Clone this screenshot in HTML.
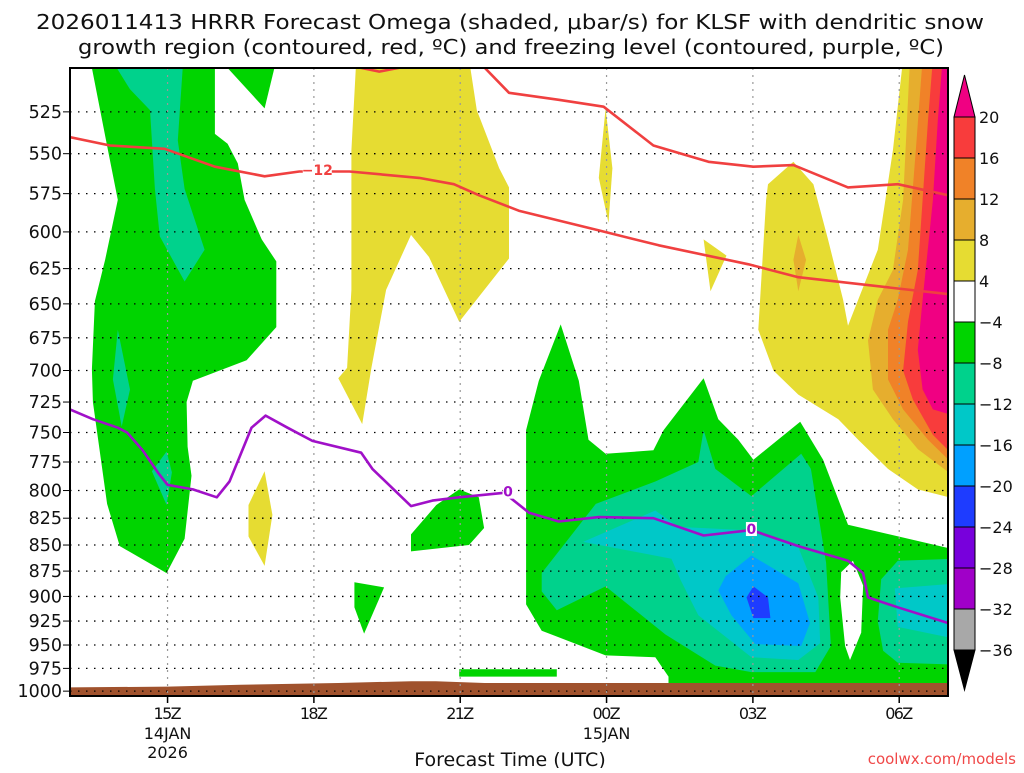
<!DOCTYPE html>
<html><head><meta charset="utf-8"><style>
body{margin:0;background:#fff;width:1024px;height:768px;overflow:hidden;font-family:"Liberation Sans",sans-serif}
svg text{font-family:"DejaVu Sans","Liberation Sans",sans-serif}
</style></head><body>
<svg id="chart" width="1024" height="768" xmlns="http://www.w3.org/2000/svg">
<text x="510" y="29" text-anchor="middle" font-size="20" fill="#111" textLength="948" lengthAdjust="spacingAndGlyphs">2026011413 HRRR Forecast Omega (shaded, μbar/s) for KLSF with dendritic snow</text>
<text x="511" y="54" text-anchor="middle" font-size="20" fill="#111" textLength="866" lengthAdjust="spacingAndGlyphs">growth region (contoured, red, ºC) and freezing level (contoured, purple, ºC)</text>
<defs><clipPath id="pc"><rect x="70" y="68" width="878" height="628"/></clipPath></defs>
<g id="fills" clip-path="url(#pc)"></g>
<g id="grid"></g>
<g id="lines" clip-path="url(#pc)"></g>
<rect x="70" y="68" width="878" height="628" fill="none" stroke="#000" stroke-width="2"/>
<g id="axes"></g>
<g id="cbar"></g>
<text x="510" y="766" text-anchor="middle" font-size="19" fill="#111">Forecast Time (UTC)</text>
<text x="1016" y="764" text-anchor="end" font-size="15" fill="#f04848" font-family="Liberation Mono">coolwx.com/models</text>
</svg>
<script>
// data: [hour since 00Z Jan14, pressure hPa]
const greenLeft=[[13.45,500],[15.97,500],[15.97,538],[16.23,544],[16.44,556],[16.58,579],[16.93,605],[17.23,620],[17.23,667],[16.62,692],[15.52,708],[15.39,725],[15.41,762],[15.49,787],[15.35,844],[14.98,877],[14.02,851],[13.76,812],[13.47,725],[13.45,699],[13.51,648],[13.72,619],[13.98,579],[13.78,548]];
const greenTop=[[16.23,500],[17.19,500],[16.99,523]];
const tealLeft=[[13.96,500],[15.31,500],[15.21,542],[15.35,572],[15.76,612],[15.35,634],[14.84,603],[14.74,572],[14.64,524],[14.23,512]];
const tealSmall1=[[13.98,669],[14.23,715],[14.06,745],[13.88,707]];
const tealSmall2=[[14.98,766],[15.09,784],[14.98,813],[14.68,783]];
const yellowCenter=[[18.87,495],[21.18,495],[21.34,524],[21.80,559],[22.0,571],[22.0,618],[20.98,663],[20.36,617],[19.99,602],[19.48,640],[19.18,698],[18.99,743],[18.50,706],[18.68,698],[18.77,640],[18.77,548]];
const yellowA=[[23.98,523],[24.12,559],[24.04,594],[23.84,565]];
const yellowB=[[25.99,605],[26.46,616],[26.13,641]];
const yellowC=[[16.99,783],[17.15,822],[16.99,870],[16.66,842],[16.66,813]];
const yellowRight=[[27.31,569],[27.83,555],[28.24,569],[28.54,605],[28.85,647],[28.95,666],[29.16,647],[29.56,612],[29.87,548],[30.08,495],[31.2,495],[31.2,808],[30.38,799],[29.77,781],[29.16,756],[28.75,739],[27.93,719],[27.42,700],[27.11,669],[27.21,612],[27.27,579]];
const orangeSmall=[[27.93,602],[28.09,619],[27.93,641],[27.83,619]];
const goldRight=[[30.22,495],[31.2,495],[31.2,790],[30.38,764],[29.87,739],[29.46,715],[29.36,677],[29.56,647],[29.87,626],[30.08,579]];
const orangeRight=[[30.48,495],[31.2,495],[31.2,781],[30.59,756],[30.08,731],[29.77,707],[29.77,669],[29.97,647],[30.18,612],[30.34,548]];
const redRight=[[30.69,495],[31.2,495],[31.2,773],[30.69,752],[30.28,723],[30.08,700],[30.18,663],[30.38,626],[30.48,579],[30.59,530]];
const magentaRight=[[30.89,495],[31.2,495],[31.2,737],[30.69,731],[30.48,715],[30.38,684],[30.48,647],[30.69,579],[30.79,530]];
const greenLow=[[22.35,748],[22.61,708],[23.06,665],[23.43,708],[23.63,756],[23.98,768],[24.96,765],[25.17,748],[25.99,706],[26.29,739],[26.70,756],[27.01,773],[27.97,741],[28.44,773],[28.95,831],[31.2,855],[31.2,1010],[25.27,1010],[25.27,984],[25.0,963],[23.98,961],[22.67,935],[22.35,908]];
const tealLow=[[22.67,877],[23.78,812],[25.0,792],[25.88,775],[25.99,748],[26.23,781],[26.97,805],[27.99,768],[28.19,781],[28.50,867],[28.60,951],[28.28,979],[26.97,979],[26.23,972],[25.21,939],[23.98,890],[22.98,914],[22.67,895]];
const cyanLow=[[23.52,847],[25.0,818],[25.47,833],[26.84,836],[27.93,852],[28.34,901],[28.38,948],[27.93,966],[26.97,963],[25.88,919],[25.52,884],[25.33,863]];
const blueLow=[[26.44,880],[26.97,860],[27.93,887],[28.17,927],[27.99,951],[27.05,949],[26.56,919],[26.29,894]];
const darkBlueLow=[[26.87,901],[27.01,890],[27.31,901],[27.36,922],[27.01,922]];
const whiteHole=[[28.81,876],[29.05,865],[29.26,889],[29.22,937],[28.99,966],[28.89,951],[28.79,901]];
const tealRight=[[29.63,883],[29.97,865],[31.2,863],[31.2,971],[29.97,969],[29.67,956],[29.56,925]];
const cyanRight=[[29.91,892],[31.2,887],[31.2,944],[29.97,931]];
const greenBlob1=[[19.99,856],[19.99,840],[20.51,813],[20.98,799],[21.38,806],[21.49,834],[21.18,850],[20.57,853]];
const greenBlob2=[[18.83,886],[19.44,891],[19.03,938],[18.83,911]];
const greenStrip=[[20.98,976],[22.98,976],[22.98,984],[20.98,984]];
const ground=[[12.8,1010],[12.8,996],[15.0,995],[16.5,993],[18.5,991],[20.0,989],[20.5,989],[21.5,991],[31.2,991],[31.2,1010]];
const redLine1=[[13,540],[13.82,545],[14.94,547],[15.97,558],[16.99,564],[17.70,561],[18.73,561],[20.16,565],[20.87,569],[21.38,576],[22.20,586],[23.84,599],[25.07,609],[26.91,622],[27.93,631],[29.97,639],[31,643]];
const redLine2=[[18.62,498],[19.34,502],[20.1,498],[21.4,497],[22.0,514],[23.02,518],[23.94,522],[24.96,545],[26.09,555],[27.01,558],[27.83,557],[28.95,571],[29.97,569],[31,576]];
const purpleLine=[[13,731],[13.47,739],[13.98,746],[14.17,750],[14.49,765],[14.80,784],[15.0,795],[15.52,799],[16.01,806],[16.27,792],[16.72,746],[17.01,736],[17.46,746],[17.97,757],[18.97,767],[19.20,781],[19.99,814],[20.43,809],[20.98,806],[21.90,802],[22.41,820],[23.02,828],[23.84,824],[24.96,825],[25.99,841],[26.97,836],[27.93,851],[28.95,865],[29.26,877],[29.36,901],[29.97,911],[31,927]];
const contourLabels=[["−12",18.07,560,"#f04040"],["0",21.98,801,"#a010c8"],["0",26.97,835,"#a010c8"]];
const pressureTicks=[525,550,575,600,625,650,675,700,725,750,775,800,825,850,875,900,925,950,975,1000];
const timeTicks=[15,18,21,24,27,30];
const timeLabels=["15Z","18Z","21Z","00Z","03Z","06Z"];
const dateLabels=[["14JAN","2026"],[],[],["15JAN"],[],[]];
const cbarValues=["20","16","12","8","4","−4","−8","−12","−16","−20","−24","−28","−32","−36"];
const cbarColors=["#f83c3c","#f08228","#e6ae2e","#e6dc32","#ffffff","#00d400","#00d28c","#00c8c8","#00a0ff","#1e3cff","#7800dc","#a000c8","#a8a8a8"];

const X=h=>70+(h-13)*878/18;
const Y=p=>68+899*Math.log(p/500);
const NS="http://www.w3.org/2000/svg";
function mk(tag,parent,attrs){const e=document.createElementNS(NS,tag);for(const k in attrs)e.setAttribute(k,attrs[k]);parent.appendChild(e);return e;}
const pts=a=>a.map(d=>X(d[0]).toFixed(1)+","+Y(d[1]).toFixed(1)).join(" ");
const fills=document.getElementById("fills");
const layers=[["green-left",greenLeft,"#00d400"],["green-top",greenTop,"#00d400"],["teal-left",tealLeft,"#00d28c"],["teal-small-1",tealSmall1,"#00d28c"],["teal-small-2",tealSmall2,"#00d28c"],
["yellow-center",yellowCenter,"#e6dc32"],["yellow-a",yellowA,"#e6dc32"],["yellow-b",yellowB,"#e6dc32"],["yellow-c",yellowC,"#e6dc32"],["yellow-right",yellowRight,"#e6dc32"],["orange-small",orangeSmall,"#e6ae2e"],
["gold-right",goldRight,"#e6ae2e"],["orange-right",orangeRight,"#f08228"],["red-right",redRight,"#f83c3c"],["magenta-right",magentaRight,"#f00082"],
["green-low",greenLow,"#00d400"],["teal-low",tealLow,"#00d28c"],["cyan-low",cyanLow,"#00c8c8"],["blue-low",blueLow,"#00a0ff"],["darkblue-low",darkBlueLow,"#1e3cff"],
["white-hole",whiteHole,"#ffffff"],["teal-right",tealRight,"#00d28c"],["cyan-right",cyanRight,"#00c8c8"],["green-blob-1",greenBlob1,"#00d400"],["green-blob-2",greenBlob2,"#00d400"],["green-strip",greenStrip,"#00d400"],["ground",ground,"#a0522d"]];
layers.forEach(l=>{const e=mk("polygon",fills,{points:pts(l[1]),fill:l[2]});

});
const grid=document.getElementById("grid");
pressureTicks.forEach(p=>{const e=mk("line",grid,{x1:70,x2:948,y1:Y(p),y2:Y(p),stroke:"#000","stroke-width":1.3,"stroke-dasharray":"1.5 6.5"});

});
timeTicks.forEach(h=>{const e=mk("line",grid,{x1:X(h),x2:X(h),y1:68,y2:696,stroke:"#999","stroke-width":1.2,"stroke-dasharray":"2 5"});

});
const lines=document.getElementById("lines");
[["dendritic-minus12-line-lower",redLine1,"#f04040"],["dendritic-minus12-line-upper",redLine2,"#f04040"],["freezing-level-line",purpleLine,"#a010c8"]].forEach(l=>{
const e=mk("polyline",lines,{points:pts(l[1]),fill:"none",stroke:l[2],"stroke-width":2.6,"stroke-linejoin":"round"});

});
contourLabels.forEach(c=>{const x=X(c[1]),y=Y(c[2]);const w=c[0].length*9+2;
mk("rect",lines,{x:x-w/2,y:y-7,width:w,height:14,fill:"#fff"});
const t=mk("text",lines,{x:x,y:y+5,"text-anchor":"middle","font-size":14,"font-weight":"bold",fill:c[3]});t.textContent=c[0];

});
const axes=document.getElementById("axes");
pressureTicks.forEach(p=>{const t=mk("text",axes,{x:62,y:Y(p)+6,"text-anchor":"end","font-size":17.5,fill:"#111"});t.textContent=p;


mk("line",axes,{x1:63,x2:70,y1:Y(p),y2:Y(p),stroke:"#000","stroke-width":1});});
timeTicks.forEach((h,i)=>{const x=X(h);mk("line",axes,{x1:x,x2:x,y1:696,y2:703,stroke:"#000","stroke-width":1.5});
const t=mk("text",axes,{x:x,y:719,"text-anchor":"middle","font-size":16,fill:"#111","textLength":28});t.textContent=timeLabels[i];


dateLabels[i].forEach((s,j)=>{const d=mk("text",axes,{x:x,y:739+j*19,"text-anchor":"middle","font-size":16,fill:"#111"});d.textContent=s;

});});
const cb=document.getElementById("cbar");
const cx=954,cw=21,ct=117,ch=41;
const up=mk("polygon",cb,{points:`${cx},${ct} ${cx+cw},${ct} ${cx+cw/2},75`,fill:"#f00082",stroke:"#000"});


cbarColors.forEach((c,i)=>{const r=mk("rect",cb,{x:cx,y:ct+i*ch,width:cw,height:ch,fill:c,stroke:"#000","stroke-width":1});

});
const bot=ct+cbarColors.length*ch;
const dn=mk("polygon",cb,{points:`${cx},${bot} ${cx+cw},${bot} ${cx+cw/2},${bot+40}`,fill:"#000",stroke:"#000"});


cbarValues.forEach((v,i)=>{const t=mk("text",cb,{x:979,y:ct+i*ch+6,"font-size":16,fill:"#111"});t.textContent=v;

});
</script>
</body></html>
